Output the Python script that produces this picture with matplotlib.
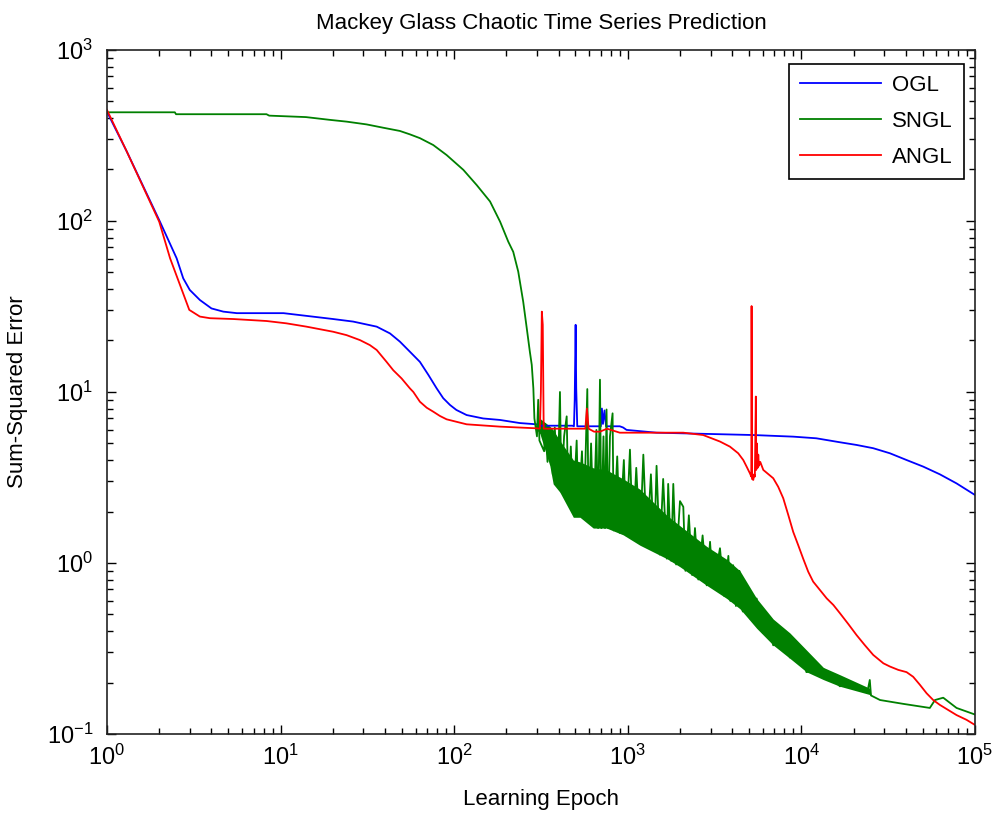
import matplotlib.pyplot as plt
import numpy as np

plt.rcParams['font.family'] = ['Liberation Sans', 'DejaVu Sans']
plt.rcParams['mathtext.fontset'] = 'custom'
plt.rcParams['mathtext.rm'] = 'Liberation Sans'
plt.rcParams['mathtext.it'] = 'Liberation Sans:italic'
plt.rcParams['mathtext.bf'] = 'Liberation Sans:bold'
plt.rcParams['axes.unicode_minus'] = False

##### OGL
ogl_epoch = [1, 1.3, 2.02, 2.52, 2.75, 3.0, 3.43, 4.0, 4.68, 5.6, 10.4, 20.1, 26.2,
             35.8, 42.7, 48.7, 55.6, 63.5, 71, 79.3, 86.5, 94.6, 103, 118, 147, 184,
             239, 299, 312, 480, 490, 495, 501, 505, 512, 600, 700, 710, 720, 735, 750,
             900, 940, 985, 1466, 5290, 8980, 12200, 16700, 20800, 25950, 32400, 40400,
             50400, 62800, 78400, 100000]
ogl_sse = [435, 255, 99, 60.5, 46.2, 39.5, 34.5, 30.8, 29.5, 28.9, 28.9, 26.7, 25.8,
           24.1, 22.0, 19.7, 17.2, 15.0, 12.6, 10.5, 9.2, 8.4, 7.85, 7.33, 7.0, 6.86,
           6.58, 6.47, 6.35, 6.35, 6.3, 9.0, 24.7, 10.5, 6.3, 6.3, 6.3, 8.0, 6.5, 7.8, 6.3,
           6.3, 6.2, 6.0, 5.78, 5.6, 5.48, 5.36, 5.08, 4.9, 4.69, 4.38, 4.0,
           3.66, 3.3, 2.92, 2.5]

##### ANGL
angl_epoch = [1, 1.3, 2.0, 2.31, 2.98, 3.43, 3.92, 5.35, 8.3, 10.8, 14.1, 20.1, 24,
              28.7, 32.7, 35.8, 40.8, 44.6, 49.8, 55.6, 58.2, 63.5, 69.5, 75.8, 82.8,
              90.5, 118, 184, 299, 312, 316, 320, 324, 328, 340, 570, 582,
              595, 640, 692, 760, 900, 2090, 2720, 3400, 3880, 4330, 4630, 4840, 5060,
              5150, 5170, 5200, 5290, 5350, 5400, 5470, 5500, 5550, 5600, 5650, 5700,
              5800, 6040, 6890, 7360, 7870, 8410, 8980, 9600, 10250, 10960, 11700,
              12800, 14000, 15300, 16700, 18700, 20800, 23200, 25950, 29700, 32400,
              36200, 40400, 44100, 48200, 52700, 57500, 62800, 70300, 78400, 89500,
              100000]
angl_sse = [446, 255, 99, 60.5, 30.2, 27.6, 27, 26.7, 26, 25.2, 24.1, 22.5, 21.5,
            20.1, 18.8, 17.6, 15.0, 13.4, 12.0, 10.5, 10.0, 8.77, 8.09, 7.67, 7.24,
            6.92, 6.47, 6.27, 6.13, 6.1, 10.0, 29.5, 24.7, 6.1, 6.1, 6.1, 8.0,
            6.1, 5.86, 5.86, 6.1, 5.78, 5.78, 5.6, 5.13, 4.79, 4.38, 4.0, 3.66, 3.34,
            3.2, 31.8, 3.1, 3.06, 3.3, 3.2, 9.4, 3.5, 5.0, 3.6, 4.3, 3.7,
            3.9, 3.5, 3.13, 2.79, 2.39, 1.91, 1.52, 1.27, 1.06, 0.889, 0.778,
            0.695, 0.621, 0.568, 0.508, 0.438, 0.379, 0.331, 0.290, 0.259, 0.248,
            0.237, 0.230, 0.216, 0.194, 0.173, 0.158, 0.148, 0.138, 0.129, 0.121,
            0.113]

##### SNGL
sngl_epoch = [1, 2.46, 2.5, 8.3, 8.6, 14, 19.3, 24, 31.3, 39, 48.7, 55.6, 63.5, 75.8,
              90.5, 113, 135, 161, 184, 205, 219, 234, 250, 262, 273, 280, 286, 290,
              300, 305, 310, 330, 335, 345, 360, 370, 380, 395, 407, 415, 430, 445, 455,
              470, 485, 508, 520, 545, 560, 585, 595, 615, 635, 660, 675, 692, 705, 725,
              740, 755, 770, 790, 818, 830, 870, 900, 950, 980, 1030, 1070, 1120, 1176,
              1230, 1290, 1360, 1420, 1466, 1530, 1600, 1680, 1710, 1780, 1830, 1900,
              2000, 2090, 2150, 2250, 2350, 2440, 2550, 2700, 2850, 2980, 3100, 3400,
              3600, 3800, 3900, 4050, 4200, 4400, 4600, 4840, 5100, 5530, 6000, 6310,
              6890, 7870, 8590, 9810, 10700, 13400, 16700, 18200, 24000, 24800, 25200,
              28400, 38700, 55000, 58900, 65700, 78400, 100000]
sngl_sse = [432, 432, 421, 421, 413, 405, 390, 381, 367, 351, 336, 321, 305, 278,
            243, 199, 162, 130, 99, 75.7, 66, 50.6, 33.7, 23.6, 17.2, 14.4, 10.5, 7.0,
            5.5, 9.0, 5.2, 4.5, 6.5, 3.9, 5.8, 3.3, 6.2, 2.8, 10.0, 2.6, 5.5, 7.2, 2.3,
            4.8, 2.0, 5.2, 1.9, 4.5, 1.85, 10.4, 1.8, 5.0, 1.65, 6.0, 1.6, 11.8, 1.6, 5.5,
            1.6, 7.9, 1.6, 5.5, 7.5, 1.55, 4.2, 1.5, 4.0, 1.45, 4.6, 1.4, 3.6, 1.3,
            4.3, 1.25, 3.3, 1.18, 3.7, 1.12, 3.1, 1.06, 2.9, 1.03, 2.9, 0.98,
            2.3, 2.13, 0.9, 1.9, 0.85, 1.6, 0.8, 1.45, 0.74, 1.33, 0.72, 1.22,
            0.64, 1.1, 0.6, 0.97, 0.56, 0.9, 0.52, 0.71, 0.47, 0.62, 0.39, 0.5,
            0.33, 0.40, 0.28, 0.32, 0.23, 0.24, 0.19, 0.2, 0.175, 0.207, 0.168,
            0.158, 0.150, 0.142, 0.158, 0.163, 0.142, 0.130]

# solid part of the oscillating SNGL error
band_epoch = [300, 312, 356, 372, 406, 486, 531, 633, 755, 942, 1176, 1680, 2000, 2850,
              3720, 4430, 5530, 6890, 8590, 10700, 13400, 16700, 24800, 25200]
band_lo = [6.0, 5.7, 3.7, 2.9, 2.6, 1.85, 1.85, 1.6, 1.6, 1.46, 1.27, 1.06, 0.95, 0.74,
           0.62, 0.54, 0.415, 0.331, 0.277, 0.231, 0.208, 0.19, 0.17, 0.168]
band_hi = [6.5, 7.0, 6.3, 6.0, 5.2, 4.0, 3.9, 3.6, 3.5, 3.1, 2.7, 1.9, 1.65, 1.25,
           1.05, 0.9, 0.62, 0.47, 0.39, 0.31, 0.245, 0.222, 0.185, 0.168]

fig = plt.figure(figsize=(9.95, 8.19), dpi=100)
ax = fig.add_axes([0.1075, 0.1038, 0.8723, 0.8352])

green = (0, 0.5, 0)
ax.fill_between(band_epoch, band_lo, band_hi, color=green, lw=0)
ax.plot(ogl_epoch, ogl_sse, color='b', lw=1.3, label='OGL')
ax.plot(sngl_epoch, sngl_sse, color=green, lw=1.3, label='SNGL')
ax.plot(angl_epoch, angl_sse, color='r', lw=1.3, label='ANGL')

ax.set_xscale('log')
ax.set_yscale('log')
ax.set_xlim(1, 1e5)
ax.set_ylim(0.1, 1000)

ax.tick_params(which='both', direction='in', top=True, right=True, labelsize=17)
ax.tick_params(which='major', length=6.5, width=1)
ax.tick_params(which='minor', length=4.3, width=1)
ax.tick_params(axis='x', pad=8)
ax.tick_params(axis='y', pad=10)
for s in ax.spines.values():
    s.set_linewidth(1.2)
    s.set_color('#222222')

ax.set_title('Mackey Glass Chaotic Time Series Prediction', fontsize=16, pad=15)
ax.set_xlabel('Learning Epoch', fontsize=16)
ax.set_ylabel('Sum-Squared Error', fontsize=16)
ax.xaxis.set_label_coords(0.5, -0.08)
ax.yaxis.set_label_coords(-0.091, 0.5)

leg = ax.legend(loc='upper right', bbox_to_anchor=(0.987, 0.9795), borderaxespad=0,
                fontsize=16, handlelength=3.65, handletextpad=0.5, labelspacing=0.67,
                borderpad=0.5, fancybox=False, framealpha=1, edgecolor='k')
leg.get_frame().set_linewidth(1.2)

plt.savefig('out.png', dpi=100)
